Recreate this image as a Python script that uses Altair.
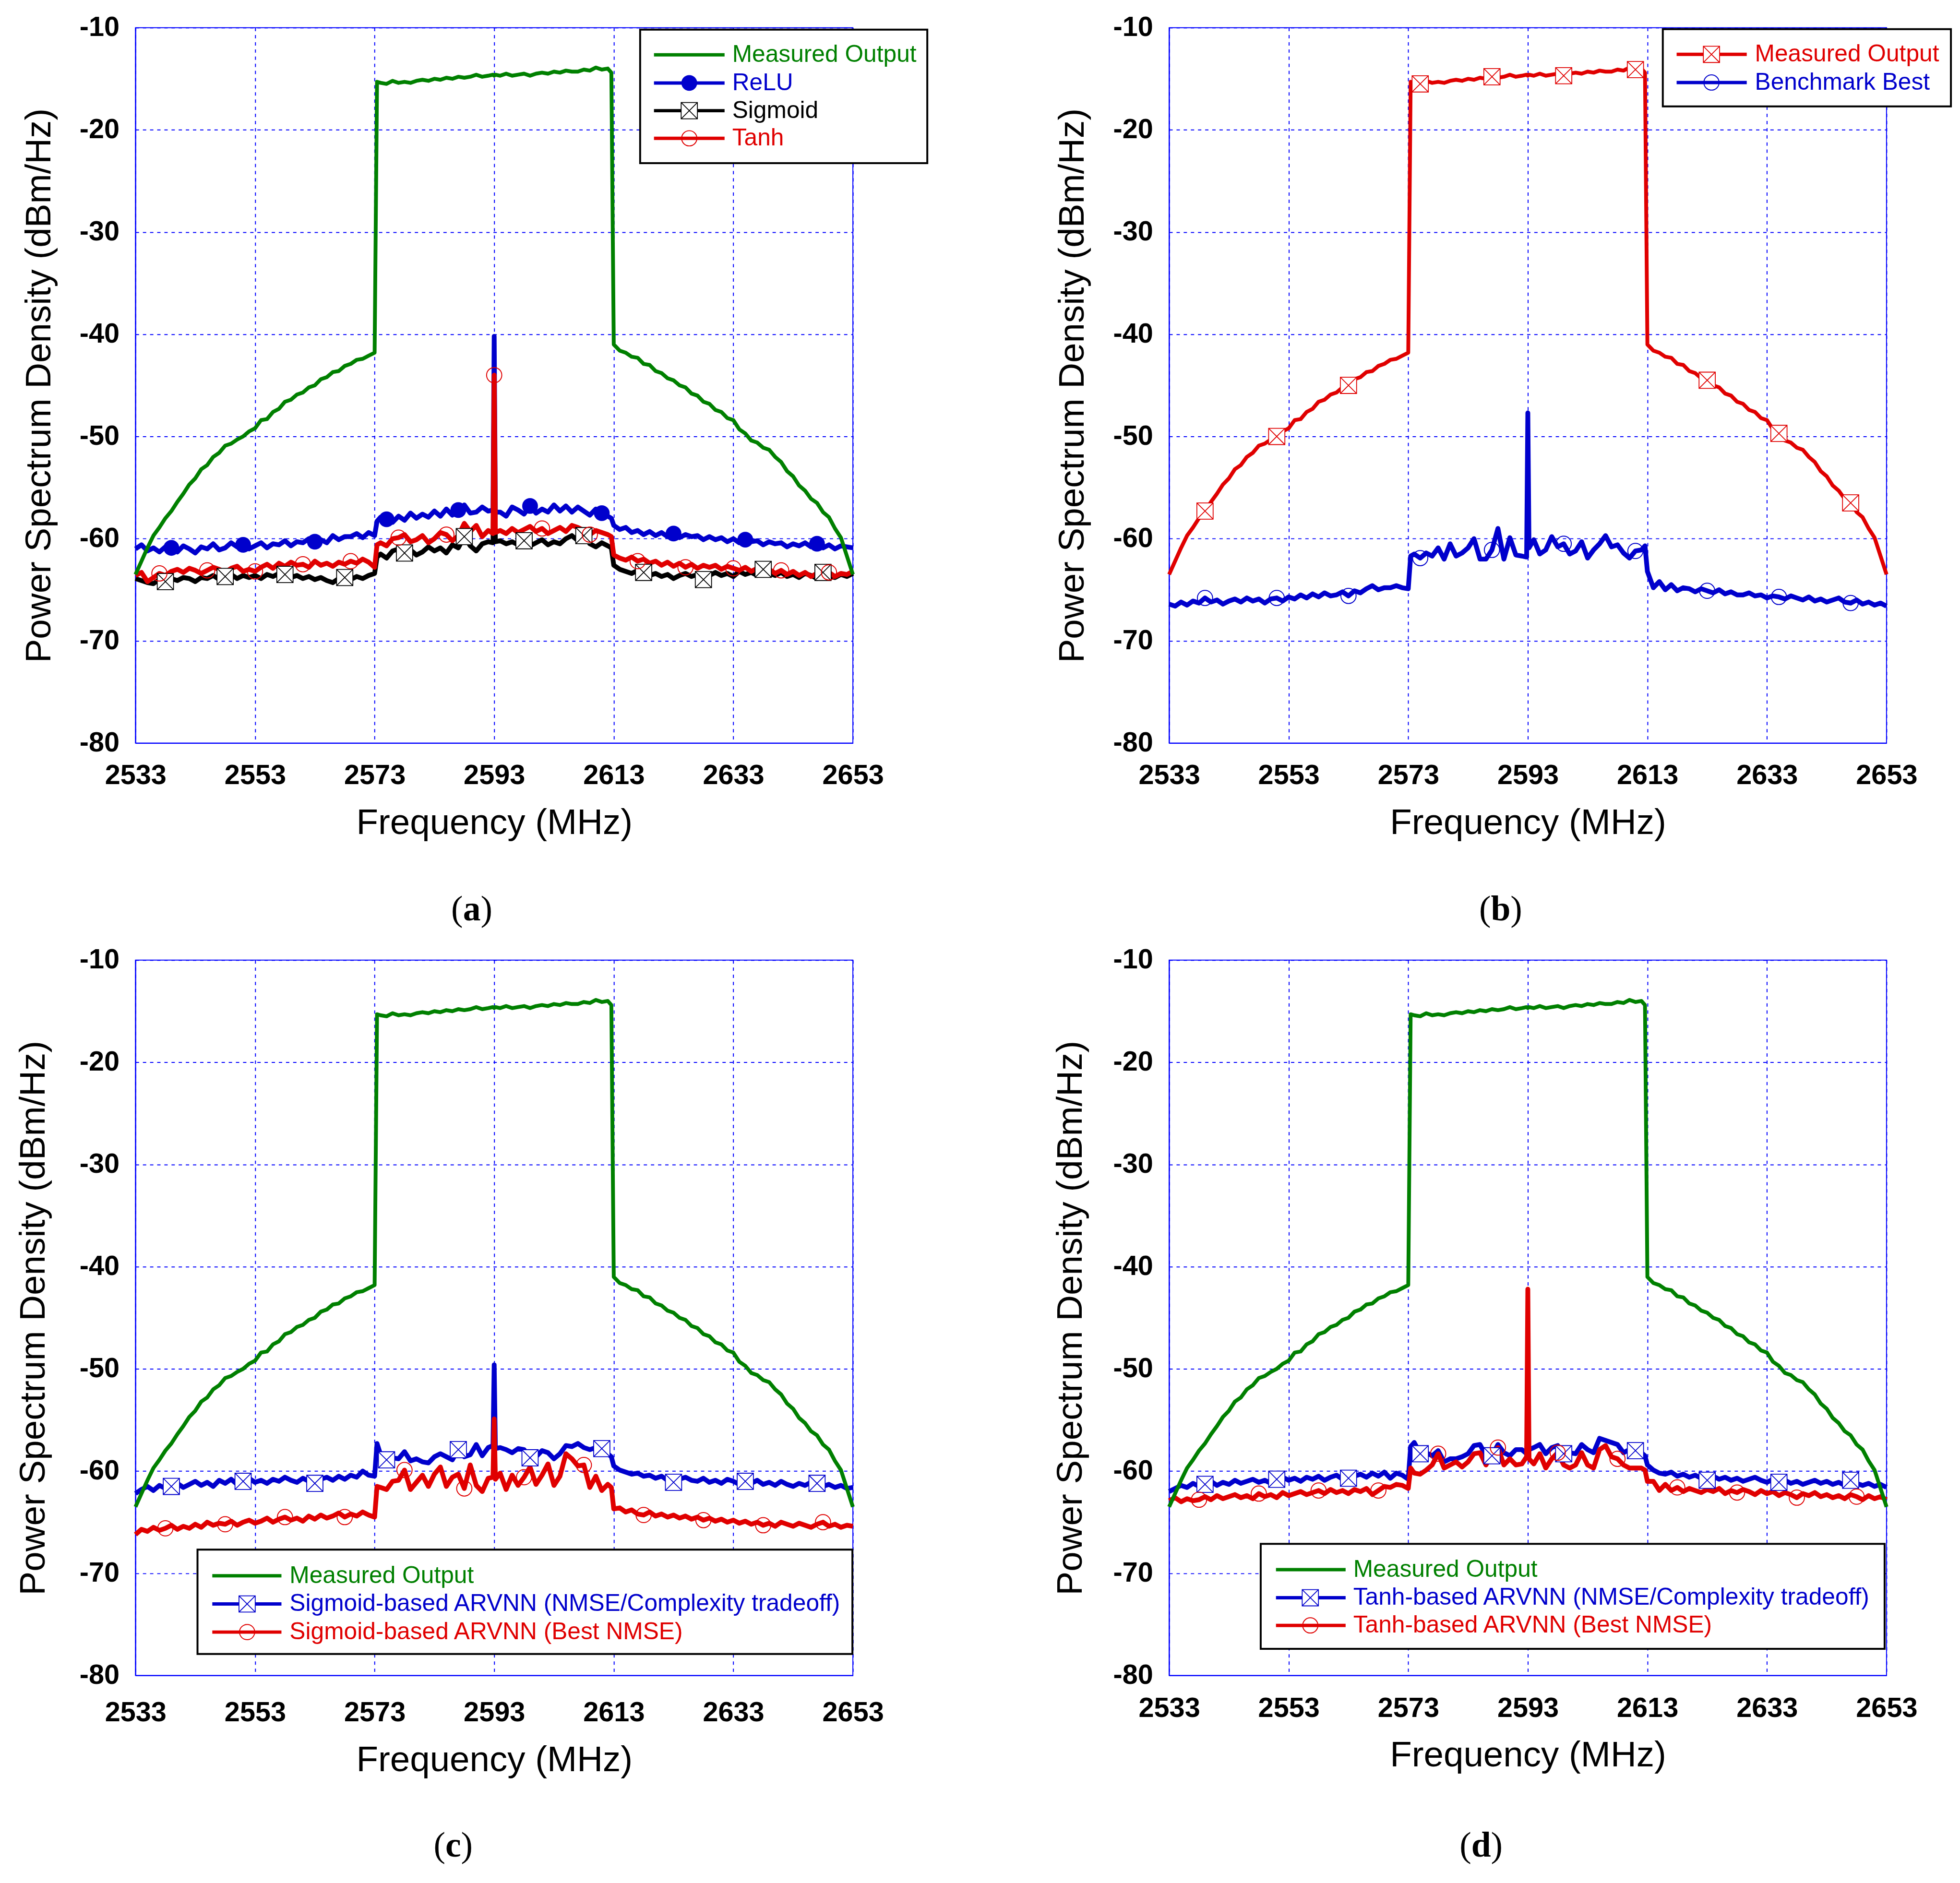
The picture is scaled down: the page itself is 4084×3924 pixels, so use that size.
import altair as alt
import pandas as pd

# frequency grid in MHz: 1 MHz steps, plus extra points at the band edges and the centre spike
FREQ = ([float(f) for f in range(2533, 2574)] + [2573.4]
        + [float(f) for f in range(2574, 2593)] + [2592.8, 2593.0, 2593.2]
        + [float(f) for f in range(2594, 2613)] + [2612.6]
        + [float(f) for f in range(2613, 2654)])

# PSD values (dBm/Hz), one per FREQ point
MEASURED = ([-63.5, -62.2, -60.9, -59.7, -58.9, -58.0, -57.3, -56.4, -55.6, -54.7,
             -54.1, -53.2, -52.8, -52.0, -51.6, -50.9, -50.7, -50.3, -50.0, -49.5,
             -49.2, -48.4, -48.3, -47.6, -47.3, -46.6, -46.4, -45.9, -45.7, -45.2,
             -45.0, -44.4, -44.2, -43.7, -43.6, -43.1, -42.9, -42.5, -42.4, -42.1,
             -41.8]
            + [-15.3]
            + [-15.4, -15.5, -15.2, -15.4, -15.3, -15.4, -15.2, -15.1, -15.2, -15.0,
               -15.1, -14.9, -15.0, -14.8, -14.9, -14.8, -14.6, -14.8, -14.7]
            + [-14.6, -14.7, -14.6]
            + [-14.7, -14.5, -14.7, -14.6, -14.5, -14.7, -14.5, -14.4, -14.5, -14.3,
               -14.4, -14.2, -14.3, -14.3, -14.1, -14.2, -13.9, -14.1, -14.0]
            + [-14.4]
            + [-41.0, -41.6, -41.8, -42.2, -42.3, -42.9, -43.0, -43.6, -43.8, -44.3,
               -44.5, -45.0, -45.2, -45.8, -46.0, -46.6, -46.8, -47.4, -47.6, -48.2,
               -48.4, -49.3, -49.7, -50.4, -50.6, -51.1, -51.3, -52.0, -52.5, -53.4,
               -53.9, -54.8, -55.3, -56.1, -56.5, -57.4, -57.9, -59.0, -59.9, -61.7,
               -63.5])

RELU = ([-61.0, -60.6, -61.2, -60.9, -61.3, -60.8, -60.9, -61.3, -60.7, -61.0,
         -61.4, -60.8, -61.0, -60.5, -61.1, -60.9, -60.4, -60.8, -60.6, -61.0,
         -60.7, -60.4, -60.9, -60.5, -60.6, -60.2, -60.7, -60.3, -60.4, -60.0,
         -60.3, -60.1, -60.4, -59.7, -60.1, -59.8, -59.8, -59.5, -59.9, -59.4,
         -59.7]
        + [-58.3]
        + [-57.9, -58.1, -58.4, -57.8, -58.2, -57.5, -58.0, -57.6, -57.9, -57.3,
           -57.8, -57.1, -57.7, -57.2, -56.7, -57.5, -57.4, -56.9, -57.3]
        + [-57.2, -40.2, -57.4]
        + [-57.4, -57.8, -56.9, -57.2, -57.6, -56.8, -57.5, -57.1, -57.4, -56.7,
           -57.3, -56.8, -57.4, -56.9, -57.3, -57.7, -57.1, -57.5, -57.8]
        + [-58.0]
        + [-58.7, -59.1, -58.9, -59.4, -59.2, -59.6, -59.3, -59.7, -59.4, -59.8,
           -59.5, -59.9, -59.6, -59.8, -59.7, -60.1, -59.8, -60.1, -59.9, -60.3,
           -60.0, -60.4, -60.1, -60.3, -60.2, -60.6, -60.3, -60.5, -60.4, -60.8,
           -60.5, -60.7, -60.4, -60.8, -60.5, -60.9, -60.6, -61.0, -60.7, -60.8,
           -60.9])

SIGMOID = ([-63.9, -64.1, -64.3, -64.4, -64.0, -64.2, -63.9, -64.1, -63.8, -63.9,
            -64.2, -63.8, -63.9, -63.6, -64.0, -63.7, -63.5, -63.9, -63.6, -63.8,
            -63.6, -63.9, -63.5, -63.7, -63.4, -63.5, -63.8, -63.6, -63.9, -63.7,
            -64.0, -63.8, -64.1, -64.3, -63.9, -63.8, -64.0, -63.7, -63.9, -63.6,
            -63.4]
           + [-61.8]
           + [-61.5, -61.9, -61.2, -61.0, -61.4, -61.1, -61.6, -61.3, -60.8, -61.2,
              -60.9, -61.4, -60.6, -60.9, -59.8, -60.7, -61.2, -60.5, -60.3]
           + [-60.4, -50.0, -60.3]
           + [-60.2, -60.5, -60.3, -60.6, -60.2, -60.7, -60.4, -60.1, -60.6, -60.3,
              -60.5, -60.0, -59.7, -60.2, -59.7, -60.5, -60.8, -60.4, -60.7]
           + [-60.9]
           + [-62.6, -63.0, -63.2, -63.4, -63.1, -63.3, -63.6, -63.4, -63.7, -63.5,
              -63.9, -63.6, -63.4, -63.7, -63.5, -64.0, -63.6, -63.3, -63.6, -63.4,
              -63.7, -63.2, -63.5, -63.3, -63.6, -63.0, -63.4, -63.6, -63.3, -63.7,
              -63.5, -63.8, -63.4, -63.6, -63.9, -63.3, -63.7, -63.8, -63.5, -63.7,
              -63.4])

TANH = ([-63.6, -63.3, -64.2, -63.8, -63.4, -63.6, -63.2, -63.0, -63.3, -62.9,
         -63.1, -63.4, -63.1, -62.8, -63.0, -63.3, -62.9, -62.7, -63.2, -63.0,
         -63.2, -62.8, -62.5, -62.9, -62.4, -62.7, -62.3, -62.6, -62.5, -62.8,
         -62.2, -62.6, -62.4, -62.7, -62.3, -62.5, -62.2, -62.4, -62.0, -62.3,
         -62.8]
        + [-60.6]
        + [-60.4, -60.7, -60.0, -59.9, -59.6, -60.3, -60.1, -59.7, -60.4, -60.0,
           -59.4, -59.6, -60.2, -59.7, -58.5, -59.3, -58.7, -59.8, -59.2]
        + [-59.5, -44.0, -59.4]
        + [-59.2, -59.5, -59.0, -59.4, -59.1, -58.8, -59.3, -59.0, -59.5, -59.2,
           -58.9, -59.3, -58.7, -58.9, -59.2, -59.6, -59.2, -59.4, -59.6]
        + [-59.8]
        + [-61.6, -61.9, -62.1, -61.8, -62.2, -62.0, -62.4, -62.2, -62.6, -62.3,
           -62.7, -62.4, -62.8, -62.5, -62.9, -62.6, -62.8, -62.6, -63.0, -62.7,
           -62.9, -63.1, -62.8, -63.2, -62.9, -63.3, -63.0, -63.4, -63.1, -63.5,
           -63.2, -63.6, -63.3, -63.7, -63.4, -63.6, -63.3, -63.7, -63.4, -63.5,
           -63.2])

BENCHMARK = ([-66.4, -66.6, -66.2, -66.5, -66.1, -66.3, -65.8, -66.2, -66.0, -66.4,
              -66.1, -65.9, -66.2, -65.8, -66.1, -65.9, -66.3, -65.9, -65.8, -66.1,
              -65.7, -65.9, -65.5, -65.8, -65.4, -65.7, -65.3, -65.6, -65.5, -65.2,
              -65.6, -65.1, -65.3, -64.9, -64.6, -65.0, -64.8, -64.8, -64.6, -64.8,
              -64.9]
             + [-61.7]
             + [-61.5, -61.9, -61.4, -61.7, -60.9, -62.0, -60.5, -61.7, -61.4, -60.9,
                -60.0, -62.0, -62.0, -61.1, -59.0, -62.0, -59.9, -61.6, -61.7]
             + [-61.8, -47.7, -60.9]
             + [-60.1, -61.5, -61.1, -59.8, -60.8, -60.5, -61.5, -61.2, -60.3, -61.9,
                -61.1, -60.5, -59.7, -60.8, -60.6, -61.4, -61.9, -61.2, -61.1]
             + [-60.7]
             + [-63.2, -64.8, -64.2, -65.0, -64.5, -65.1, -64.8, -64.9, -65.2, -64.9,
                -65.1, -65.3, -65.0, -65.4, -65.2, -65.5, -65.5, -65.3, -65.6, -65.5,
                -65.8, -65.6, -65.7, -65.9, -65.6, -65.8, -66.0, -65.7, -66.1, -65.9,
                -66.2, -66.0, -65.8, -66.2, -66.3, -66.0, -66.4, -66.2, -66.5, -66.3,
                -66.6])

SIG_TRADEOFF = ([-62.2, -61.8, -61.5, -61.9, -61.4, -61.7, -61.5, -61.2, -61.6, -61.3,
                 -61.0, -61.4, -61.1, -61.5, -60.9, -61.2, -60.8, -61.3, -61.0, -60.7,
                 -61.1, -60.9, -61.2, -60.8, -61.0, -60.6, -60.9, -61.1, -60.7, -61.0,
                 -61.2, -60.8, -60.6, -60.9, -60.5, -60.8, -60.4, -60.6, -60.0, -60.4,
                 -60.5]
                + [-57.3]
                + [-58.4, -58.9, -58.7, -58.8, -58.1, -59.0, -58.8, -59.1, -59.2, -58.6,
                   -58.3, -58.6, -58.9, -57.9, -58.6, -58.4, -57.4, -58.5, -57.7]
                + [-57.5, -49.6, -57.8]
                + [-57.7, -57.9, -58.2, -57.8, -57.9, -58.7, -58.6, -58.0, -58.2, -58.8,
                   -58.3, -57.5, -57.6, -57.3, -57.7, -57.9, -57.7, -57.8, -58.3]
                + [-58.6]
                + [-59.5, -59.9, -60.1, -60.3, -60.2, -60.5, -60.4, -60.7, -60.5, -60.9,
                   -61.1, -60.8, -60.6, -60.9, -61.0, -60.7, -61.1, -60.9, -61.2, -60.8,
                   -61.0, -61.3, -61.0, -61.2, -60.9, -61.3, -61.1, -61.4, -61.0, -61.3,
                   -61.5, -61.2, -61.4, -61.1, -61.2, -61.5, -61.3, -61.6, -61.4, -61.7,
                   -61.6])

SIG_BEST = ([-66.2, -65.7, -65.9, -65.5, -65.8, -65.6, -65.3, -65.7, -65.4, -65.6,
             -65.2, -65.5, -65.0, -65.3, -65.1, -65.2, -64.9, -65.3, -65.0, -64.8,
             -65.1, -64.9, -64.6, -65.0, -64.7, -64.5, -64.8, -64.6, -64.9, -64.4,
             -64.7, -64.3, -64.6, -64.4, -64.1, -64.5, -64.2, -64.4, -64.0, -64.3,
             -64.5]
            + [-61.5]
            + [-61.6, -61.8, -61.0, -60.9, -59.9, -61.8, -61.1, -60.4, -61.5, -60.3,
               -59.6, -61.5, -60.6, -60.3, -61.7, -59.4, -61.4, -62.0, -60.7]
            + [-60.6, -54.9, -60.8]
            + [-60.2, -61.8, -60.4, -61.4, -60.6, -59.6, -61.3, -60.4, -59.3, -61.4,
               -60.5, -58.3, -58.8, -59.5, -59.4, -61.6, -60.5, -61.9, -61.3]
            + [-61.6]
            + [-63.7, -63.6, -64.0, -63.8, -64.2, -64.3, -64.0, -64.4, -64.2, -64.5,
               -64.3, -64.6, -64.4, -64.7, -64.5, -64.8, -64.6, -64.9, -64.7, -65.0,
               -64.8, -65.1, -64.9, -65.2, -65.0, -65.3, -65.1, -65.4, -65.0, -65.2,
               -65.4, -65.1, -65.3, -65.5, -65.2, -65.0, -65.4, -65.2, -65.5, -65.3,
               -65.4])

TANH_TRADEOFF = ([-62.0, -61.7, -61.4, -61.6, -61.2, -61.5, -61.3, -61.0, -61.4, -61.1,
                  -61.3, -60.9, -61.2, -61.0, -60.8, -61.1, -60.9, -61.2, -60.8, -60.6,
                  -60.9, -60.7, -61.0, -60.6, -60.8, -60.5, -60.9, -60.6, -60.4, -60.8,
                  -60.7, -60.5, -60.3, -60.6, -60.2, -60.5, -60.1, -60.7, -60.2, -60.4,
                  -60.8]
                 + [-57.6]
                 + [-57.2, -58.3, -58.2, -58.5, -58.0, -59.1, -58.8, -58.8, -58.6, -58.3,
                    -57.5, -57.4, -58.5, -58.5, -57.4, -58.2, -58.5, -57.9, -57.9]
                 + [-58.3, -57.6, -57.9]
                 + [-57.7, -57.4, -58.3, -57.7, -57.5, -58.3, -58.2, -58.3, -57.4, -57.9,
                    -58.2, -56.8, -57.0, -57.2, -57.4, -58.2, -57.9, -58.0, -58.2]
                 + [-58.5]
                 + [-59.4, -59.9, -60.2, -60.3, -60.1, -60.5, -60.3, -60.6, -60.4, -60.7,
                    -60.9, -60.5, -60.8, -60.6, -60.9, -60.7, -61.0, -60.8, -60.6, -60.9,
                    -61.1, -60.8, -61.1, -60.9, -61.2, -61.0, -61.3, -61.1, -60.9, -61.2,
                    -61.0, -61.3, -61.1, -61.4, -60.9, -61.2, -61.4, -61.2, -61.5, -61.3,
                    -61.6])

TANH_BEST = ([-62.9, -62.6, -63.0, -62.7, -62.9, -62.8, -62.5, -62.8, -62.4, -62.7,
              -62.5, -62.3, -62.6, -62.4, -62.7, -62.2, -62.5, -62.3, -62.6, -62.1,
              -62.4, -62.2, -62.0, -62.3, -62.1, -61.9, -62.2, -61.8, -62.1, -61.9,
              -62.2, -61.8, -62.0, -61.7, -62.3, -61.9, -61.5, -61.6, -61.3, -61.4,
              -61.7]
             + [-59.7]
             + [-60.2, -60.3, -59.9, -59.4, -58.3, -59.7, -59.4, -59.1, -59.6, -59.1,
                -58.3, -58.2, -59.4, -58.3, -57.7, -59.4, -58.8, -59.4, -59.3]
             + [-58.6, -42.2, -58.8]
             + [-59.3, -58.3, -59.7, -58.8, -58.2, -59.4, -59.7, -59.4, -58.2, -59.4,
                -59.7, -57.9, -57.5, -58.6, -58.8, -59.4, -59.7, -59.7, -59.7]
             + [-59.9]
             + [-61.0, -61.0, -61.9, -61.3, -61.9, -61.6, -62.0, -61.7, -61.9, -62.1,
                -61.8, -62.0, -61.7, -62.2, -61.9, -62.1, -61.8, -62.0, -62.3, -61.9,
                -62.2, -62.0, -62.4, -62.1, -62.3, -62.6, -62.2, -62.4, -62.1, -62.5,
                -62.3, -62.6, -62.4, -62.7, -62.3, -62.5, -62.8, -62.4, -62.7, -62.5,
                -62.8])

# where the sparse markers sit on each trace
MK12 = [2539, 2551, 2563, 2575, 2587, 2599, 2611, 2623, 2635, 2647]
MK10 = [2538, 2548, 2558, 2568, 2578, 2588, 2598, 2608, 2618, 2628, 2638, 2648]
MK8 = [2537, 2545, 2553, 2561, 2569, 2577, 2585, 2593, 2601, 2609, 2617, 2625, 2633, 2641, 2649]

X_TICKS = [2533, 2553, 2573, 2593, 2613, 2633, 2653]
Y_TICKS = [-80, -70, -60, -50, -40, -30, -20, -10]

GREEN, BLUE, RED, BLACK, GRID = "#008000", "#0000cc", "#e00000", "#000000", "#0000ff"
BOX = "M-1,-1L1,-1L1,1L-1,1Z M-1,-1L1,1 M1,-1L-1,1"
LW_MAIN, LW_FLOOR, LW_KEY = 8, 10, 7
W, H = 1504, 1500
FONT = "Liberation Sans"
SERIF = "Liberation Serif"

AX = dict(ticks=False, tickSize=0, labelFont=FONT, labelFontSize=58, labelFontWeight="bold",
          labelColor="black", titleFont=FONT, titleFontSize=75, titleFontWeight="normal",
          titleColor="black", grid=True, gridColor=GRID, gridDash=[7, 8], gridWidth=2,
          gridOpacity=1, domainColor=GRID, domainWidth=2, labelExpr="datum.value + ''",
          labelFlush=False, labelOverlap=False)

ONE = pd.DataFrame({"k": [0]})


def frame(values):
    return pd.DataFrame({"freq": FREQ, "psd": values})


def marker_frame(values, freqs):
    lookup = dict(zip(FREQ, values))
    return pd.DataFrame({"freq": [float(f) for f in freqs],
                         "psd": [lookup[float(f)] for f in freqs]})


def marker_style(kind, color):
    if kind == "dot":
        return dict(shape="circle", filled=True, color=color, size=1090, opacity=1)
    if kind == "box":
        return dict(shape=BOX, filled=True, fill="white", stroke=color, strokeWidth=1.8,
                    size=1160, opacity=1)
    return dict(shape="circle", filled=False, color=color, strokeWidth=2, size=1020, opacity=1)


def caption_layers(letter, letter_w, cx, cy):
    # "(a)" style: regular parentheses around a bold letter
    fs = 74
    half = letter_w * fs / 2
    parts = [("(", "normal", "right", cx - half), (letter, "bold", "center", cx),
             (")", "normal", "left", cx + half)]
    return [alt.Chart(ONE).mark_text(text=t, font=SERIF, fontSize=fs, fontWeight=wt,
                                     align=al, baseline="middle", color="black").encode(
        x=alt.value(px), y=alt.value(cy)) for t, wt, al, px in parts]


def panel(lines, markers, legend, caption, x_pad, y_title_pad):
    x = alt.X("freq:Q", scale=alt.Scale(domain=[2533, 2653], nice=False, zero=False),
              axis=alt.Axis(values=X_TICKS, title="Frequency (MHz)", labelPadding=x_pad,
                            titlePadding=33, **AX))
    y = alt.Y("psd:Q", scale=alt.Scale(domain=[-80, -10], nice=False, zero=False),
              axis=alt.Axis(values=Y_TICKS, title="Power Spectrum Density (dBm/Hz)",
                            labelPadding=34, titlePadding=y_title_pad, **AX))
    layers = []
    for values, color, lw in lines:
        layers.append(alt.Chart(frame(values)).mark_line(
            color=color, strokeWidth=lw, strokeJoin="round").encode(x=x, y=y))
    for values, freqs, kind, color in markers:
        layers.append(alt.Chart(marker_frame(values, freqs)).mark_point(
            **marker_style(kind, color)).encode(x=x, y=y))

    # boxed legend drawn inside the plot, like the original
    (bx0, by0, bx1, by1), rows, (lx0, lx1), mx, tx, entries = legend
    layers.append(alt.Chart(ONE).mark_rect(fill="white", stroke="black", strokeWidth=4).encode(
        x=alt.value(bx0), x2=alt.value(bx1), y=alt.value(by0), y2=alt.value(by1)))
    for yy, (label, color, kind) in zip(rows, entries):
        layers.append(alt.Chart(ONE).mark_rule(color=color, strokeWidth=LW_KEY).encode(
            x=alt.value(lx0), x2=alt.value(lx1), y=alt.value(yy)))
        if kind:
            layers.append(alt.Chart(ONE).mark_point(**marker_style(kind, color)).encode(
                x=alt.value(mx), y=alt.value(yy)))
        layers.append(alt.Chart(ONE).mark_text(
            text=label, color=color, font=FONT, fontSize=50, align="left",
            baseline="middle").encode(x=alt.value(tx), y=alt.value(yy)))

    layers += caption_layers(*caption)
    return alt.layer(*layers).properties(width=W, height=H)


pa = panel(
    lines=[(SIGMOID, BLACK, LW_FLOOR), (RELU, BLUE, LW_FLOOR), (TANH, RED, LW_FLOOR),
           (MEASURED, GREEN, LW_MAIN)],
    markers=[(RELU, MK12, "dot", BLUE), (SIGMOID, MK10, "box", BLACK), (TANH, MK8, "ring", RED)],
    legend=((1058, 4, 1660, 284), [57, 116, 174, 232], (1087, 1235), 1161, 1251,
            [("Measured Output", GREEN, None), ("ReLU", BLUE, "dot"),
             ("Sigmoid", BLACK, "box"), ("Tanh", RED, "ring")]),
    caption=("a", 0.5, 705, H + 350), x_pad=40, y_title_pad=45)

pb = panel(
    lines=[(BENCHMARK, BLUE, LW_FLOOR), (MEASURED, RED, LW_MAIN)],
    markers=[(MEASURED, MK12, "box", RED), (BENCHMARK, MK12, "ring", BLUE)],
    legend=((1035, 3, 1639, 165), [56, 115], (1064, 1211), 1137, 1228,
            [("Measured Output", RED, "box"), ("Benchmark Best", BLUE, "ring")]),
    caption=("b", 0.556, 695, H + 350), x_pad=40, y_title_pad=46)

pc = panel(
    lines=[(SIG_TRADEOFF, BLUE, LW_FLOOR), (SIG_BEST, RED, LW_FLOOR), (MEASURED, GREEN, LW_MAIN)],
    markers=[(SIG_TRADEOFF, MK12, "box", BLUE), (SIG_BEST, MK10, "ring", RED)],
    legend=((130, 1236, 1503, 1455), [1291, 1350, 1409], (161, 306), 234, 323,
            [("Measured Output", GREEN, None),
             ("Sigmoid-based ARVNN (NMSE/Complexity tradeoff)", BLUE, "box"),
             ("Sigmoid-based ARVNN (Best NMSE)", RED, "ring")]),
    caption=("c", 0.444, 666, H + 358), x_pad=50, y_title_pad=57)

pd_ = panel(
    lines=[(TANH_TRADEOFF, BLUE, LW_FLOOR), (TANH_BEST, RED, LW_FLOOR), (MEASURED, GREEN, LW_MAIN)],
    markers=[(TANH_TRADEOFF, MK12, "box", BLUE), (TANH_BEST, MK10, "ring", RED)],
    legend=((192, 1224, 1500, 1444), [1278, 1337, 1395], (224, 370), 296, 386,
            [("Measured Output", GREEN, None),
             ("Tanh-based ARVNN (NMSE/Complexity tradeoff)", BLUE, "box"),
             ("Tanh-based ARVNN (Best NMSE)", RED, "ring")]),
    caption=("d", 0.556, 654, H + 358), x_pad=40, y_title_pad=50)

chart = alt.concat(pa, pb, pc, pd_, columns=2, spacing={"row": 455, "column": 663},
                   bounds="flush").properties(
    padding={"left": 24, "top": 8, "right": 8, "bottom": 8}
).configure(font=FONT).configure_view(stroke=GRID, strokeWidth=2)

chart.save("out.html", embed_options={"renderer": "svg", "actions": False})
